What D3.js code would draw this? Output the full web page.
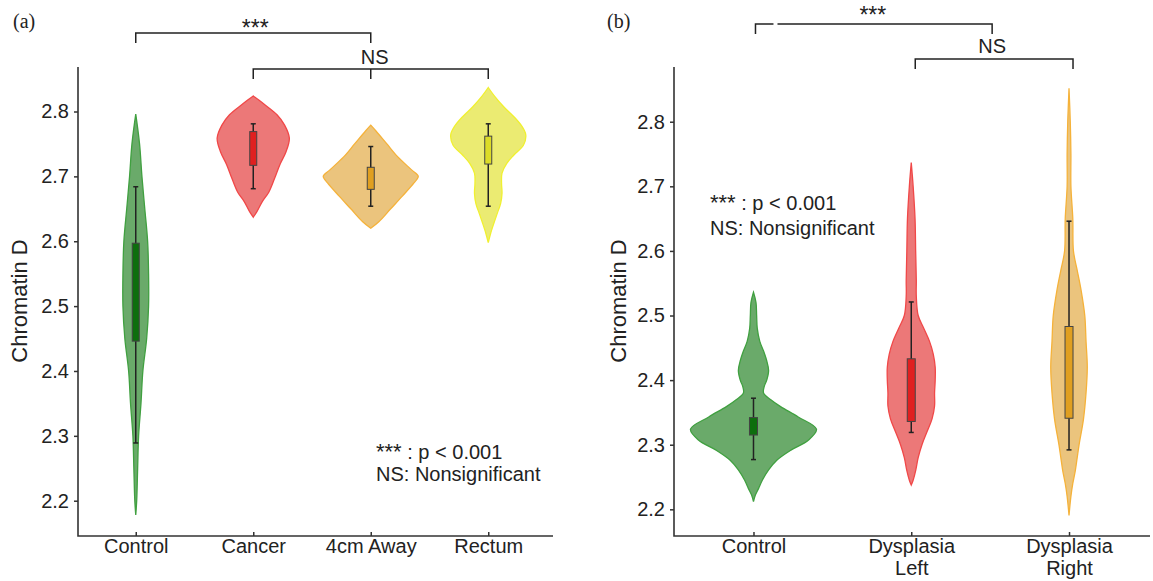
<!DOCTYPE html>
<html>
<head>
<meta charset="utf-8">
<script src="https://cdn.jsdelivr.net/npm/d3@7"></script>
<style>
  body { margin: 0; background: #fff; }
  svg { display: block; font-family: 'Liberation Sans', Arial, sans-serif; }
</style>
</head>
<body>
<svg id="chart" width="1153" height="581"></svg>
<script>
// ---- data for panel (a) ----
const catsA = ['Control', 'Cancer', '4cm Away', 'Rectum'];
const ticksY = [2.2, 2.3, 2.4, 2.5, 2.6, 2.7, 2.8];
// density profiles: [value, relative density]
const controlA = [[2.178,0],[2.20,.02],[2.25,.04],[2.30,.06],[2.35,.11],[2.40,.15],[2.45,.23],[2.50,.27],[2.55,.27],[2.60,.25],[2.65,.19],[2.70,.13],[2.75,.08],[2.796,0]];
const cancerA = [[2.637,0],[2.646,.08],[2.661,.19],[2.676,.33],[2.697,.45],[2.718,.56],[2.738,.69],[2.759,.76],[2.779,.66],[2.795,.50],[2.810,.25],[2.818,.11],[2.824,0]];
const awayA = [[2.62,0],[2.63,.17],[2.65,.42],[2.67,.67],[2.69,.91],[2.70,1],[2.71,.86],[2.73,.57],[2.75,.34],[2.77,.11],[2.779,0]];
const rectumA = [[2.598,0],[2.612,.05],[2.628,.12],[2.643,.19],[2.658,.26],[2.674,.29],[2.689,.28],[2.705,.29],[2.720,.39],[2.733,.54],[2.748,.74],[2.764,.79],[2.777,.71],[2.792,.54],[2.807,.33],[2.823,.14],[2.837,0]];
// box stats: [whisker low, q1, q3, whisker high]
const boxA = [[2.289,2.446,2.597,2.684],[2.681,2.717,2.769,2.781],[2.654,2.680,2.714,2.746],[2.654,2.719,2.762,2.781]];

// ---- data for panel (b) ----
const catsB = ['Control', 'Dysplasia Left', 'Dysplasia Right'];
const controlB = [[2.212,0],[2.222,.03],[2.232,.08],[2.245,.14],[2.261,.24],[2.276,.37],[2.292,.60],[2.307,.87],[2.324,1],[2.343,.71],[2.359,.43],[2.37,.27],[2.38,.16],[2.39,.17],[2.40,.21],[2.415,.24],[2.43,.21],[2.445,.16],[2.46,.10],[2.48,.06],[2.50,.05],[2.52,.04],[2.536,0]];
const leftB = [[2.2376,0],[2.245,.03],[2.26,.07],[2.28,.11],[2.30,.17],[2.32,.25],[2.34,.33],[2.36,.37],[2.38,.37],[2.40,.38],[2.42,.38],[2.44,.35],[2.46,.29],[2.48,.20],[2.50,.11],[2.53,.08],[2.555,.08],[2.60,.07],[2.65,.06],[2.70,.03],[2.7366,0]];
const rightB = [[2.1907,0],[2.22,.03],[2.24,.06],[2.26,.10],[2.28,.13],[2.30,.16],[2.34,.23],[2.38,.27],[2.42,.29],[2.46,.27],[2.50,.25],[2.54,.19],[2.57,.13],[2.60,.07],[2.65,.06],[2.70,.03],[2.75,.03],[2.80,.02],[2.8517,0]];
const boxB = [[2.277,2.315,2.342,2.372],[2.319,2.336,2.433,2.521],[2.292,2.341,2.483,2.646]];

const colGreen = { fill: '#6aaa6a', stroke: '#40a040', box: '#0d6e0d' };
const colRed = { fill: '#ec7878', stroke: '#f04848', box: '#e02020' };
const colOrange = { fill: '#ebc47d', stroke: '#f5b23a', box: '#e09f20' };
const colYellow = { fill: '#ebeb72', stroke: '#f0f030', box: '#dcdc28' };

var svg;

document.addEventListener('DOMContentLoaded', function () {
    svg = d3.select('#chart');

    drawPanel({
        label: '(a)', labelX: 13,
        cats: catsA, xRange: [77, 547], axisLeft: 78, axisRight: 553,
        yDomain: [2.1456, 2.8686],
        profiles: [controlA, cancerA, awayA, rectumA],
        boxes: boxA,
        colors: [colGreen, colRed, colOrange, colYellow],
        maxHalf: 47.5, boxW: 7,
        titleX: 27,
        legendX: 376, legendY: 459, legendGap: 22
    });

    drawPanel({
        label: '(b)', labelX: 607,
        cats: catsB, xRange: [674.6, 1147.9], axisLeft: 674, axisRight: 1150,
        yDomain: [2.1587, 2.8847],
        profiles: [controlB, leftB, rightB],
        boxes: boxB,
        colors: [colGreen, colRed, colOrange],
        maxHalf: 63, boxW: 8,
        titleX: 626,
        legendX: 710, legendY: 210, legendGap: 25
    });

    // significance brackets (a)
    const xa = d3.scalePoint().domain(catsA).range([77, 547]).padding(0.5);
    bracket([[xa('Control'), 43], [xa('Control'), 33], [xa('4cm Away'), 33], [xa('4cm Away'), 43]]);
    stars((xa('Control') + xa('4cm Away')) / 2 + 2, 36);
    bracket([[xa('Cancer'), 79], [xa('Cancer'), 69], [xa('Rectum'), 69], [xa('Rectum'), 79]]);
    bracket([[xa('4cm Away'), 69], [xa('4cm Away'), 79]]);
    svg.append('text').attr('x', xa('4cm Away') + 4).attr('y', 64)
        .attr('text-anchor', 'middle').style('font-size', '20px').style('fill', '#222').text('NS');

    // significance brackets (b)
    const xb = d3.scalePoint().domain(catsB).range([674.6, 1147.9]).padding(0.5);
    const midB = (xb('Dysplasia Left') + xb('Dysplasia Right')) / 2 + 2;
    bracket([[xb('Control') + 2, 34], [xb('Control') + 2, 24], [xb('Control') + 20, 24]]);
    bracket([[xb('Control') + 24, 24], [midB, 24], [midB, 34]]);
    stars((xb('Control') + midB) / 2, 23);
    bracket([[xb('Dysplasia Left') + 4, 69], [xb('Dysplasia Left') + 4, 59], [xb('Dysplasia Right') + 4, 59], [xb('Dysplasia Right') + 4, 69]]);
    svg.append('text').attr('x', midB).attr('y', 53)
        .attr('text-anchor', 'middle').style('font-size', '20px').style('fill', '#222').text('NS');
});

function stars(x, y) {
    svg.append('text').attr('x', x).attr('y', y)
        .attr('text-anchor', 'middle')
        .style('font-size', '23px')
        .style('fill', '#222')
        .text('***');
}

function bracket(pts) {
    svg.append('path')
        .attr('d', d3.line()(pts))
        .attr('fill', 'none')
        .attr('stroke', '#222')
        .attr('stroke-width', 1.5);
}

function drawPanel(p) {
    const g = svg.append('g');
    const top = 67, bottom = 536;

    const x = d3.scalePoint().domain(p.cats).range(p.xRange).padding(0.5);
    const y = d3.scaleLinear().domain(p.yDomain).range([bottom, top]);
    const w = d3.scaleLinear().domain([0, 1]).range([0, p.maxHalf]);

    // violins
    p.cats.forEach((c, i) => {
        const cx = x(c);
        const area = d3.area()
            .curve(d3.curveCatmullRom.alpha(0.5))
            .y(d => y(d[0]))
            .x0(d => cx - w(d[1]))
            .x1(d => cx + w(d[1]));
        g.append('path')
            .attr('d', area(p.profiles[i]))
            .style('fill', p.colors[i].fill)
            .style('stroke', p.colors[i].stroke)
            .style('stroke-width', 1.3);
    });

    // box + whiskers
    p.cats.forEach((c, i) => {
        const cx = x(c);
        const b = p.boxes[i];
        g.append('line')
            .attr('x1', cx).attr('x2', cx)
            .attr('y1', y(b[0])).attr('y2', y(b[3]))
            .style('stroke', '#222').style('stroke-width', 1.5);
        [b[0], b[3]].forEach(v => {
            g.append('line')
                .attr('x1', cx - 2.5).attr('x2', cx + 2.5)
                .attr('y1', y(v)).attr('y2', y(v))
                .style('stroke', '#222').style('stroke-width', 1.5);
        });
        g.append('rect')
            .attr('x', cx - p.boxW / 2)
            .attr('y', y(b[2]))
            .attr('width', p.boxW)
            .attr('height', y(b[1]) - y(b[2]))
            .style('fill', p.colors[i].box)
            .style('stroke', '#444')
            .style('stroke-width', 1);
    });

    // axes
    const yAxis = d3.axisLeft(y).tickValues(ticksY).tickFormat(d3.format('.1f'))
        .tickSizeInner(4).tickSizeOuter(0).tickPadding(5);
    const ya = g.append('g').attr('transform', `translate(${p.axisLeft},0)`).call(yAxis);
    ya.select('.domain').remove();
    ya.selectAll('line').style('stroke', '#333').style('stroke-width', 1.5);
    ya.selectAll('text').style('font-size', '20px').style('fill', '#222')
        .style('font-family', "'Liberation Sans', Arial, sans-serif");

    const xAxis = d3.axisBottom(x).tickSizeInner(-4).tickSizeOuter(0).tickPadding(3);
    const xa = g.append('g').attr('transform', `translate(0,${bottom})`).call(xAxis);
    xa.select('.domain').remove();
    xa.selectAll('line').style('stroke', '#333').style('stroke-width', 1.5);
    xa.selectAll('text').each(function (d) {
        const t = d3.select(this);
        const words = d.split(' ');
        t.text(null).style('font-size', '20px').style('fill', '#222')
            .style('font-family', "'Liberation Sans', Arial, sans-serif");
        if (d.startsWith('Dysplasia')) {
            words.forEach((wd, k) => {
                t.append('tspan').attr('x', 0).attr('dy', k === 0 ? '0.71em' : '1.1em').text(wd);
            });
            t.attr('dy', null);
        } else {
            t.text(d);
        }
    });

    g.append('path')
        .attr('d', d3.line()([[p.axisLeft, top], [p.axisLeft, bottom], [p.axisRight, bottom]]))
        .attr('fill', 'none')
        .style('stroke', '#333')
        .style('stroke-width', 1.6);

    // y title
    g.append('text')
        .attr('transform', `translate(${p.titleX},${301}) rotate(-90)`)
        .attr('text-anchor', 'middle')
        .style('font-size', '22px')
        .style('fill', '#222')
        .text('Chromatin D');

    // panel label
    svg.append('text')
        .attr('x', p.labelX).attr('y', 28)
        .style('font-family', "'Liberation Serif', 'Times New Roman', serif")
        .style('font-size', '20px')
        .style('fill', '#222')
        .text(p.label);

    // significance legend
    const l1 = g.append('text')
        .attr('x', p.legendX).attr('y', p.legendY)
        .style('font-size', '20px').style('fill', '#222');
    l1.append('tspan').style('font-size', '22px').text('***');
    l1.append('tspan').text(' : p < 0.001');
    g.append('text')
        .attr('x', p.legendX).attr('y', p.legendY + p.legendGap)
        .style('font-size', '20px').style('fill', '#222')
        .text('NS: Nonsignificant');
}
</script>
</body>
</html>
